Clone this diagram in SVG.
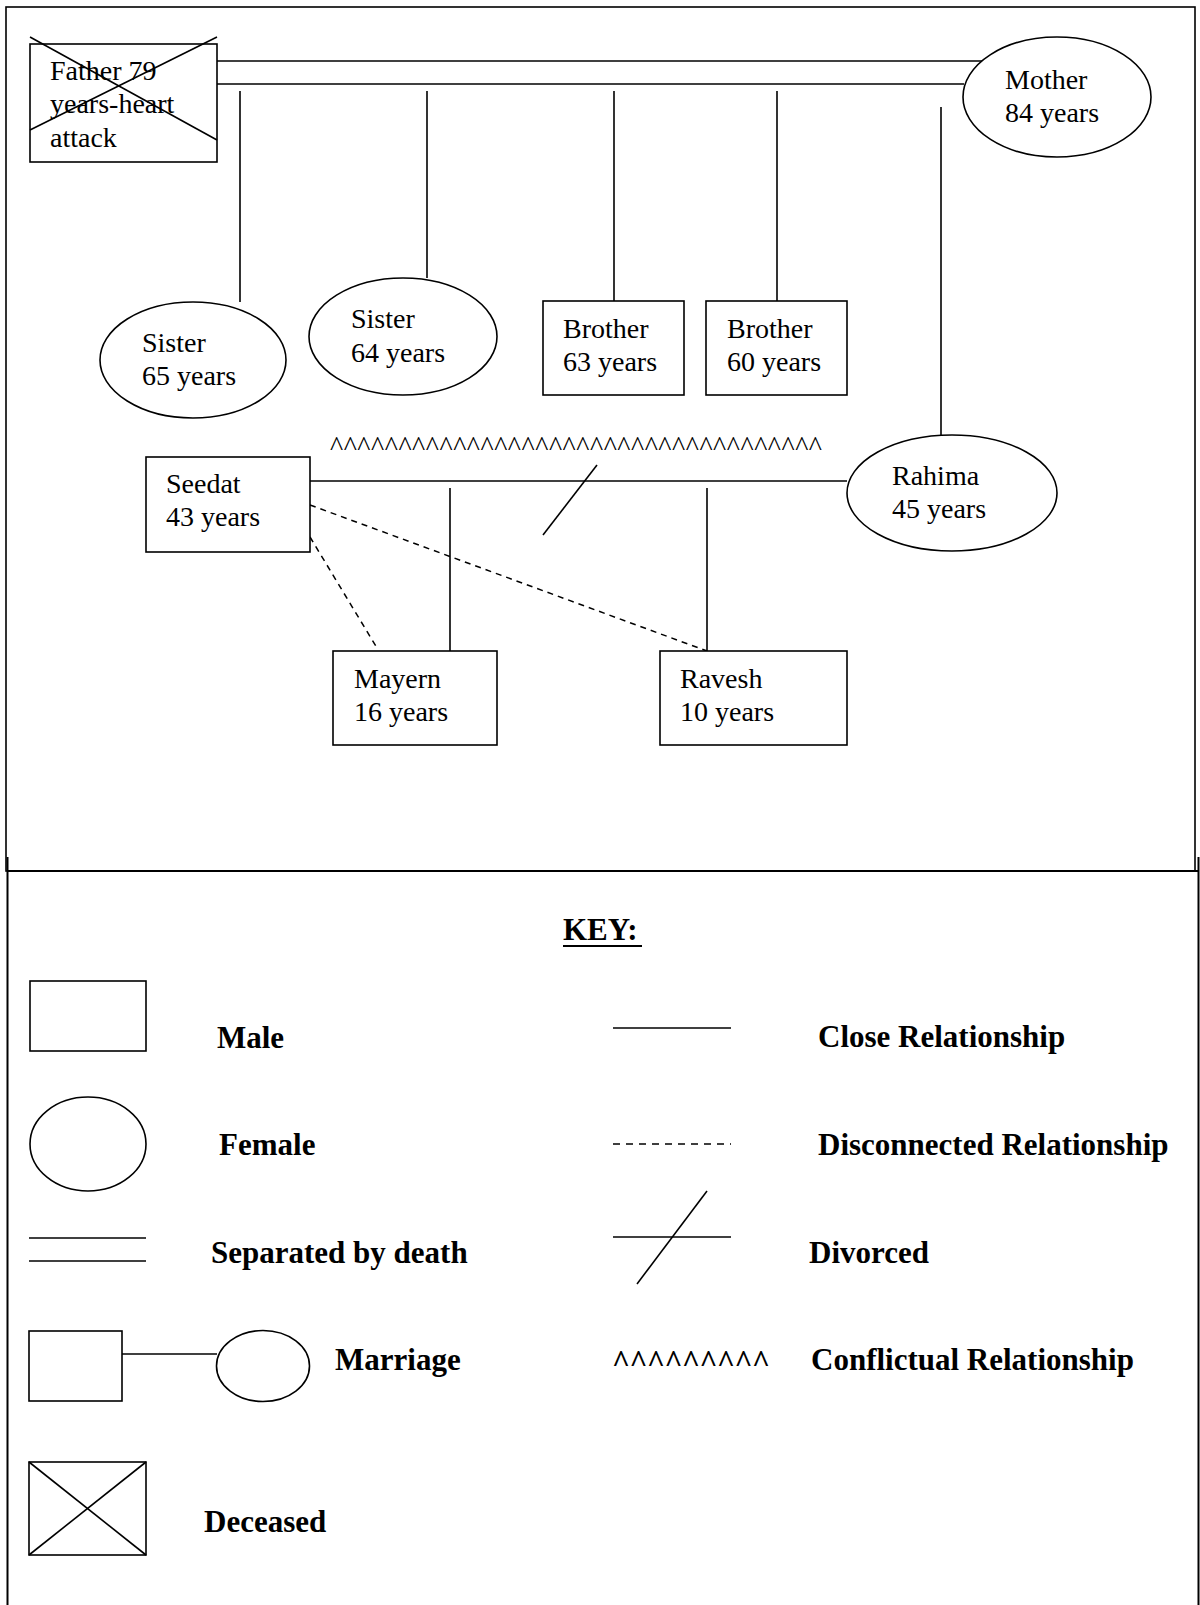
<svg xmlns="http://www.w3.org/2000/svg" width="1200" height="1605" viewBox="0 0 1200 1605">
<style>
  .ln { stroke: #000; stroke-width: 1.6; fill: none; }
  .shape { stroke: #000; stroke-width: 1.6; fill: #fff; }
  .dash { stroke: #000; stroke-width: 1.5; fill: none; stroke-dasharray: 6 5; }
  .t { font-family: "Liberation Serif", "Times New Roman", serif; font-size: 28px; fill: #000; }
  .k { font-family: "Liberation Serif", "Times New Roman", serif; font-size: 31px; font-weight: bold; fill: #000; }
</style>
<rect width="1200" height="1605" fill="#fff"/>

<!-- frames -->
<g id="frames">
  <rect x="6" y="7" width="1189" height="864" class="ln"/>
  <line x1="7.5" y1="857" x2="7.5" y2="1605" stroke="#000" stroke-width="2"/>
  <line x1="1198.5" y1="857" x2="1198.5" y2="1605" stroke="#000" stroke-width="2"/>
  <line x1="7" y1="871" x2="1198" y2="871" stroke="#000" stroke-width="2"/>
</g>

<!-- connectors -->
<g id="connectors">
  <line x1="217" y1="61" x2="987" y2="61" class="ln"/>
  <line x1="217" y1="84" x2="964" y2="84" class="ln"/>
  <line x1="240" y1="91" x2="240" y2="302" class="ln"/>
  <line x1="427" y1="91" x2="427" y2="278" class="ln"/>
  <line x1="614" y1="91" x2="614" y2="301" class="ln"/>
  <line x1="777" y1="91" x2="777" y2="301" class="ln"/>
  <line x1="941" y1="107" x2="941" y2="435" class="ln"/>
  <line x1="310" y1="481" x2="847" y2="481" class="ln"/>
  <line x1="597" y1="465" x2="543" y2="535" class="ln"/>
  <line x1="450" y1="488" x2="450" y2="651" class="ln"/>
  <line x1="707" y1="488" x2="707" y2="651" class="ln"/>
  <line x1="310" y1="505" x2="707" y2="651" class="dash"/>
  <line x1="310" y1="537" x2="377" y2="648" class="dash"/>
  <text x="330" y="455" class="t" textLength="492" lengthAdjust="spacing">^^^^^^^^^^^^^^^^^^^^^^^^^^^^^^^^^^^^</text>
</g>

<!-- nodes -->
<g id="father">
  <rect x="30" y="44" width="187" height="118" class="shape"/>
  <text class="t"><tspan x="50" y="80">Father 79</tspan><tspan x="50" y="113">years-heart</tspan><tspan x="50" y="147">attack</tspan></text>
  <line x1="30" y1="37" x2="217" y2="140" class="ln"/>
  <line x1="217" y1="37" x2="30" y2="130" class="ln"/>
</g>
<g id="mother">
  <ellipse cx="1057" cy="97" rx="94" ry="60" class="shape"/>
  <text class="t"><tspan x="1005" y="89">Mother</tspan><tspan x="1005" y="122">84 years</tspan></text>
</g>
<g id="sister65">
  <ellipse cx="193" cy="360" rx="93" ry="58" class="shape"/>
  <text class="t"><tspan x="142" y="352">Sister</tspan><tspan x="142" y="385">65 years</tspan></text>
</g>
<g id="sister64">
  <ellipse cx="403" cy="336.5" rx="94" ry="58.5" class="shape"/>
  <text class="t"><tspan x="351" y="328">Sister</tspan><tspan x="351" y="362">64 years</tspan></text>
</g>
<g id="brother63">
  <rect x="543" y="301" width="141" height="94" class="shape"/>
  <text class="t"><tspan x="563" y="338">Brother</tspan><tspan x="563" y="371">63 years</tspan></text>
</g>
<g id="brother60">
  <rect x="706" y="301" width="141" height="94" class="shape"/>
  <text class="t"><tspan x="727" y="338">Brother</tspan><tspan x="727" y="371">60 years</tspan></text>
</g>
<g id="seedat">
  <rect x="146" y="457" width="164" height="95" class="shape"/>
  <text class="t"><tspan x="166" y="493">Seedat</tspan><tspan x="166" y="526">43 years</tspan></text>
</g>
<g id="rahima">
  <ellipse cx="952" cy="493" rx="105" ry="58" class="shape"/>
  <text class="t"><tspan x="892" y="485">Rahima</tspan><tspan x="892" y="518">45 years</tspan></text>
</g>
<g id="mayern">
  <rect x="333" y="651" width="164" height="94" class="shape"/>
  <text class="t"><tspan x="354" y="688">Mayern</tspan><tspan x="354" y="721">16 years</tspan></text>
</g>
<g id="ravesh">
  <rect x="660" y="651" width="187" height="94" class="shape"/>
  <text class="t"><tspan x="680" y="688">Ravesh</tspan><tspan x="680" y="721">10 years</tspan></text>
</g>

<!-- key -->
<g id="key">
  <text x="563" y="940" class="k">KEY:</text>
  <line x1="563" y1="946" x2="642" y2="946" stroke="#000" stroke-width="2"/>

  <rect x="30" y="981" width="116" height="70" class="shape"/>
  <text x="217" y="1048" class="k">Male</text>

  <ellipse cx="88" cy="1144" rx="58" ry="47" class="shape"/>
  <text x="219" y="1155" class="k">Female</text>

  <line x1="29" y1="1238" x2="146" y2="1238" class="ln"/>
  <line x1="29" y1="1261" x2="146" y2="1261" class="ln"/>
  <text x="211" y="1263" class="k">Separated by death</text>

  <rect x="29" y="1331" width="93" height="70" class="shape"/>
  <line x1="122" y1="1354" x2="217" y2="1354" class="ln"/>
  <ellipse cx="263" cy="1366" rx="46.5" ry="35.5" class="shape"/>
  <text x="335" y="1370" class="k">Marriage</text>

  <rect x="29" y="1462" width="117" height="93" class="shape"/>
  <line x1="29" y1="1462" x2="146" y2="1555" class="ln"/>
  <line x1="146" y1="1462" x2="29" y2="1555" class="ln"/>
  <text x="204" y="1532" class="k">Deceased</text>

  <line x1="613" y1="1028" x2="731" y2="1028" class="ln"/>
  <text x="818" y="1047" class="k">Close Relationship</text>

  <line x1="613" y1="1144" x2="731" y2="1144" stroke="#000" stroke-width="1.5" stroke-dasharray="7 6"/>
  <text x="818" y="1155" class="k">Disconnected Relationship</text>

  <line x1="613" y1="1237" x2="731" y2="1237" class="ln"/>
  <line x1="707" y1="1191" x2="637" y2="1284" class="ln"/>
  <text x="809" y="1263" class="k">Divorced</text>

  <text x="612" y="1372" class="k" textLength="158" lengthAdjust="spacing">^^^^^^^^^</text>
  <text x="811" y="1370" class="k">Conflictual Relationship</text>
</g>
</svg>
